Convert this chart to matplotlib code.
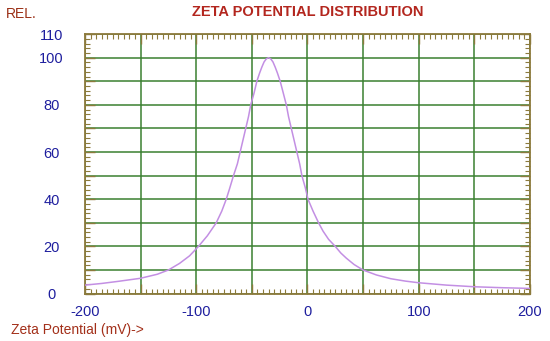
import matplotlib
matplotlib.use("Agg")
import matplotlib.pyplot as plt
import numpy as np
from matplotlib.ticker import MultipleLocator

# values (mV, relative %)
zeta_mv = [-200, -185, -170, -150, -135, -125, -115, -106, -98, -90, -82, -77, -73,
           -70, -66.5, -63, -60.5, -58, -55.5, -53, -51, -48, -45.5, -43, -41, -39,
           -37, -35, -33, -31, -29, -27, -24.5, -22, -19, -17, -14.5, -12, -9.5, -7,
           -5, -2, 0.5, 5, 10, 14, 19, 25, 30, 35, 42, 50, 62, 75, 88, 100, 125, 150,
           175, 200]
rel = [3.6, 4.3, 5.2, 6.5, 8.2, 10, 12.8, 16, 20, 24.5, 30, 35, 40,
       44.5, 50, 55, 60, 65, 70, 75, 80, 85, 90, 93.5, 96, 98.2,
       99.5, 100, 99.5, 98.2, 96, 93.5, 90, 85.5, 80, 75, 70, 65, 60, 55,
       50, 45, 40, 35, 30, 26.5, 23, 20, 17.2, 15, 12.3, 10, 7.9, 6.3, 5.3, 4.6, 3.6, 2.9,
       2.5, 2.2]

x_ticks = [-200, -150, -100, -50, 0, 50, 100, 150, 200]
x_labels = ["-200", "", "-100", "", "0", "", "100", "", "200"]
y_ticks = [0, 10, 20, 30, 40, 50, 60, 70, 80, 90, 100, 110]
y_labels = ["0", "", "20", "", "40", "", "60", "", "80", "", "100", "110"]

plt.rcParams["font.family"] = ["Liberation Sans", "DejaVu Sans"]

border = "#8C7A3C"
grid_c = "#3A8030"
blue = "#1E1E9E"

fig = plt.figure(figsize=(5.5, 3.41), dpi=100)
ax = fig.add_axes([0.1545, 0.139, 0.809, 0.761])

ax.plot(zeta_mv, rel, color="#C38FE3", lw=1.1, zorder=3)

ax.set_xlim(-200, 200)
ax.set_ylim(0, 110)
ax.set_xticks(x_ticks)
ax.set_xticklabels(x_labels)
ax.set_yticks(y_ticks)
ax.set_yticklabels(y_labels)
ax.xaxis.set_minor_locator(MultipleLocator(5))
ax.yaxis.set_minor_locator(MultipleLocator(2))
ax.grid(True, which="major", color=grid_c, lw=1.1)

ax.tick_params(which="both", direction="in", top=True, right=True, color=border,
               labelcolor=blue, labelsize=10.5)
ax.tick_params(which="major", length=7, width=1)
ax.tick_params(which="minor", length=3.5, width=0.8)
ax.tick_params(axis="x", pad=8)
ax.tick_params(axis="y", pad=24)
for lab in ax.get_yticklabels():
    lab.set_horizontalalignment("center")

for s in ax.spines.values():
    s.set_color(border)
    s.set_linewidth(1.3)

fig.text(0.56, 0.965, "ZETA POTENTIAL DISTRIBUTION", ha="center", va="center",
         color="#B3261E", fontsize=10.5, fontweight="bold")
fig.text(0.01, 0.958, "REL.", ha="left", va="center", color="#9A2E14", fontsize=10)
fig.text(0.02, 0.032, "Zeta Potential (mV)->", ha="left", va="center",
         color="#A3301A", fontsize=10)

fig.savefig("out.png", dpi=100)
